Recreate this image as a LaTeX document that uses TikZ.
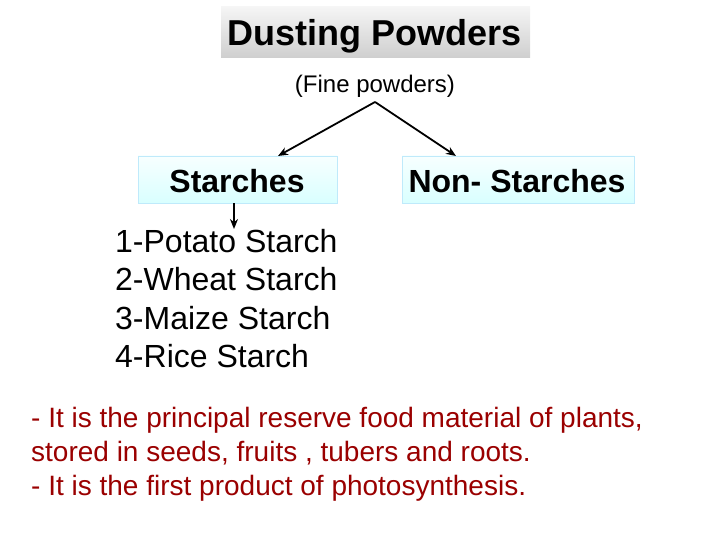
\documentclass[tikz,border=0pt]{standalone}
\usepackage{fontspec}
\setmainfont{Liberation Sans}
\usetikzlibrary{arrows.meta}
\definecolor{darkred}{HTML}{9A0000}
\tikzset{
  boxstyle/.style={draw=cyan!25, top color=cyan!3!white, bottom color=cyan!15!white, line width=0.8pt, inner sep=0pt},
  titlebox/.style={inner sep=0pt, top color=gray!8, bottom color=gray!38},
  arr/.style={line width=1.8pt, -{Stealth[length=10pt,width=8pt]}},
  listtext/.style={anchor=base west, inner sep=0pt, font=\fontsize{32}{38}\selectfont},
  notetext/.style={anchor=base west, inner sep=0pt, text=darkred, font=\fontsize{28}{34}\selectfont}
}
\begin{document}
\begin{tikzpicture}[x=1pt,y=-1pt]
\useasboundingbox (0,0) rectangle (720,540);
% title
\node[titlebox, minimum width=309pt, minimum height=51pt] (title) at (375.5,32.5) {};
\node[anchor=base, inner sep=0pt, font=\fontsize{36}{40}\selectfont\bfseries] (titletext) at (375,46) {Dusting Powders};
\node[anchor=base, inner sep=0pt, font=\fontsize{24}{28}\selectfont] (fine) at (375,93) {(Fine powders)};
\coordinate (apex) at (375,102);
% boxes
\node[boxstyle, minimum width=199pt, minimum height=47pt] (starch) at (237.5,179.5) {};
\node[anchor=base, inner sep=0pt, font=\fontsize{32}{36}\selectfont\bfseries] (starchtext) at (237,192.5) {Starches};
\node[boxstyle, minimum width=232pt, minimum height=47pt] (nonstarch) at (518,179.5) {};
\node[anchor=base, inner sep=0pt, font=\fontsize{32}{36}\selectfont\bfseries] (nonstarchtext) at (517,192.5) {Non- Starches};
% arrows
\coordinate (leftend) at (278,156);
\coordinate (rightend) at (456,156);
\draw[arr] (apex) -- (leftend);
\draw[arr] (apex) -- (rightend);
\coordinate (downstart) at (234,203.5);
\coordinate (downend) at (234,229);
\draw[arr, line width=1.6pt] (downstart) -- (downend);
% list
\node[listtext] (l1) at (115,252) {1-Potato Starch};
\node[listtext] (l2) at (115,290.5) {2-Wheat Starch};
\node[listtext] (l3) at (115,329) {3-Maize Starch};
\node[listtext] (l4) at (115,367.5) {4-Rice Starch};
% notes
\node[notetext] (n1) at (31,427) {- It is the principal reserve food material of plants,};
\node[notetext] (n2) at (31,461) {stored in seeds, fruits , tubers and roots.};
\node[notetext] (n3) at (31,495) {- It is the first product of photosynthesis.};
\end{tikzpicture}
\end{document}
